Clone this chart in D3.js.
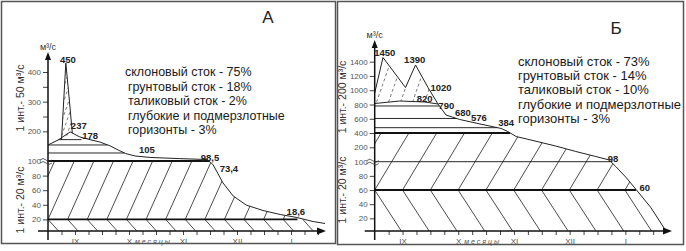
<!DOCTYPE html>
<html>
<head>
<meta charset="utf-8">
<script src="https://cdn.jsdelivr.net/npm/d3@7"></script>
<style>
body { margin: 0; background: #fff; }
svg { display: block; font-family: Arial, "Liberation Sans", sans-serif; }
</style>
</head>
<body>
<script>
// x axis: months (position in months from the start of the record)
var months = ["IX", "X", "XI", "XII", "I"];
var monthPos = [0.5, 1.5, 2.5, 3.5, 4.5];
var axisName = "месяцы";

// ---- panel A ----
var aTickLabels = [20, 40, 60, 80, 100, 200, 300, 400];
var aTickMinor = [250, 350];
var aTime = [0, 0.19, 0.41, 0.59, 0.78, 0.96, 1.15, 1.30, 1.44, 1.61, 1.89, 2.44, 2.94, 3.0, 3.06, 3.13, 3.24, 3.43, 3.67, 3.98, 4.30, 4.61, 4.91, 5.13];
var aFlow = [154, 171, 198, 181, 172, 164, 151, 137, 125, 117, 112, 108, 105, 99, 94.5, 85, 70, 52, 39.7, 32.2, 26.7, 22.6, 17.1, 14.4];
var aSpikeTime = [0.25, 0.33, 0.39, 0.45];
var aSpikeFlow = [171, 430, 316, 194];
var aLevelFlow = [172, 154, 127, 100, 20];
var aLevelFrom = [0.19, 0, 0, 0, 0];
var aLevelTo = [0.62, 1.1, 1.42, 3.0, 4.62];
var aLevelBold = [false, false, false, true, true];
var aLabels = ["450", "237", "178", "105", "98,5", "73,4", "18,6"];
var aLabelTime = [0.37, 0.57, 0.78, 1.83, 3.0, 3.35, 4.59];
var aLabelFlow = [440, 215, 184, 137, 110, 87.7, 28.8];
var aText = ["склоновый сток - 75%", "грунтовый сток - 18%", "таликовый сток - 2%",
             "глубокие и подмерзлотные", "горизонты - 3%"];

// ---- panel Б ----
var bTickLabels = [20, 40, 60, 80, 100, 200, 400, 600, 800, 1000, 1200, 1400];
var bTickMinor = [];
var bTime = [0, 0.149, 0.553, 0.733, 0.957, 1.136, 1.28, 1.526, 1.89, 2.27, 2.39, 2.54, 2.75, 3.25, 3.61, 3.97, 4.21, 4.33, 4.51, 4.69, 4.96, 5.23];
var bFlow = [960, 1459, 1038, 1354, 1038, 807, 653, 590, 527, 464, 421, 351, 312, 218, 171, 136, 112, 93, 78, 61, 35, 2];
var bArchTime = [0, 0.45, 0.9, 1.136];
var bArchFlow = [814, 849, 835, 807];
var bLevelFlow = [779, 604, 475, 400, 100, 60];
var bLevelFrom = [0, 0, 0, 0, 0, 0];
var bLevelTo = [1.16, 1.47, 2.2, 2.43, 4.27, 4.69];
var bLevelBold = [false, false, false, true, false, true];
var bLabels = ["1450", "1390", "1020", "820", "790", "680", "576", "384", "98", "60"];
var bLabelTime = [0.18, 0.718, 1.19, 0.898, 1.285, 1.585, 1.87, 2.36, 4.28, 4.85];
var bLabelFlow = [1518, 1424, 1027, 873, 779, 677, 607, 536, 112, 62.4];
var bText = ["склоновый сток - 73%", "грунтовый сток - 14%", "таликовый сток - 10%",
             "глубокие и подмерзлотные", "горизонты - 3%"];

var svg = d3.select("body").append("svg")
    .attr("width", 686)
    .attr("height", 251);
var defs = svg.append("defs");

// frames
svg.append("rect").attr("x", 1.5).attr("y", 1.5).attr("width", 334).attr("height", 242)
    .attr("fill", "none").attr("stroke", "#555").attr("stroke-width", 1.5);
svg.append("rect").attr("x", 337.5).attr("y", 1.5).attr("width", 346).attr("height", 243)
    .attr("fill", "none").attr("stroke", "#555").attr("stroke-width", 1.5);

function drawPanel(p) {
    var x = p.x, y = p.y;
    var ox = x(0), axisY = p.axisY;
    var g = svg.append("g");
    var pts = d3.zip(p.time, p.flow);

    // clip areas
    var under = d3.area().x(d => x(d[0])).y0(axisY).y1(d => y(d[1]));
    defs.append("clipPath").attr("id", p.id + "-under")
        .append("path").attr("d", under(pts));
    defs.append("clipPath").attr("id", p.id + "-up")
        .append("rect").attr("x", ox).attr("y", y(p.hatchTop))
        .attr("width", 400).attr("height", y(p.base) - y(p.hatchTop));
    defs.append("clipPath").attr("id", p.id + "-low")
        .append("rect").attr("x", ox).attr("y", y(p.base))
        .attr("width", 400).attr("height", axisY - y(p.base));
    defs.append("clipPath").attr("id", p.id + "-spike")
        .append("path").attr("d", d3.line()(p.spikePoly.map(d => [x(d[0]), y(d[1])])) + "Z");

    var yb = y(p.base);
    var starts = d3.range(-4, 24).map(k => ox + k * p.step);

    // "/" hatching above the base level
    var hTop = y(p.hatchTop) - 5;
    g.append("g").attr("clip-path", "url(#" + p.id + "-up)")
      .append("g").attr("clip-path", "url(#" + p.id + "-under)")
      .selectAll("line").data(starts).join("line")
        .attr("x1", d => d).attr("y1", yb)
        .attr("x2", d => d + p.slopeUp * (yb - hTop)).attr("y2", hTop)
        .attr("stroke", "#2a2a2a").attr("stroke-width", 0.85);

    // "\" hatching below the base level
    g.append("g").attr("clip-path", "url(#" + p.id + "-low)")
      .append("g").attr("clip-path", "url(#" + p.id + "-under)")
      .selectAll("line").data(starts).join("line")
        .attr("x1", d => d).attr("y1", yb)
        .attr("x2", d => d + p.slopeLow * (axisY + 2 - yb)).attr("y2", axisY + 2)
        .attr("stroke", "#2a2a2a").attr("stroke-width", 0.85);

    // dashed hatching in the flood peaks
    var sTop = y(p.spikeTop), sBot = y(p.spikeBase);
    g.append("g").attr("clip-path", "url(#" + p.id + "-spike)")
      .selectAll("line").data(d3.range(-6, 20).map(k => ox + k * p.spikeStep)).join("line")
        .attr("x1", d => d).attr("y1", sBot)
        .attr("x2", d => d + 0.35 * (sBot - sTop)).attr("y2", sTop)
        .attr("stroke", "#444").attr("stroke-width", 0.7).attr("stroke-dasharray", "3,2.5");

    // separation levels
    g.selectAll(".lev").data(p.levelFlow).join("line")
        .attr("x1", (d, i) => x(p.levelFrom[i])).attr("x2", (d, i) => x(p.levelTo[i]))
        .attr("y1", d => y(d)).attr("y2", d => y(d))
        .attr("stroke", "#111")
        .attr("stroke-width", (d, i) => p.levelBold[i] ? 1.9 : 0.9);

    // hydrograph
    var line = d3.line().x(d => x(d[0])).y(d => y(d[1]));
    g.append("path").attr("d", line(pts))
        .attr("fill", "none").attr("stroke", "#222").attr("stroke-width", 1);
    g.append("path").attr("d", line(p.extraLine))
        .attr("fill", "none").attr("stroke", "#222").attr("stroke-width", 1);

    // y axis
    var yAxis = d3.axisLeft(y)
        .tickValues(p.tickLabels.concat(p.tickMinor))
        .tickSize(5).tickPadding(2)
        .tickFormat(d => p.tickLabels.indexOf(d) >= 0 ? d : "");
    var ya = g.append("g").attr("transform", "translate(" + ox + ",0)").call(yAxis);
    ya.select(".domain").remove();
    ya.selectAll("line").attr("stroke", "#444");
    ya.selectAll("text").attr("font-size", 8).attr("fill", "#555").attr("font-family", "Arial");

    g.append("line").attr("x1", ox).attr("x2", ox).attr("y1", axisY + 9).attr("y2", p.axisTop + 4)
        .attr("stroke", "#111").attr("stroke-width", 1.5);
    g.append("path")
        .attr("d", "M" + ox + "," + p.axisTop + "l-3,8h6z").attr("fill", "#111");

    // break mark at 100
    var yBr = y(100);
    g.append("rect").attr("x", ox - 7).attr("y", yBr - 2.5).attr("width", 6).attr("height", 4).attr("fill", "#fff");
    g.selectAll(".brk").data([-2, 1]).join("path")
        .attr("d", d => "M" + (ox - 8) + "," + (yBr + d + 1) + "q3,-3 6,0t6,0")
        .attr("fill", "none").attr("stroke", "#333").attr("stroke-width", 0.8);

    // x axis
    var ticks = d3.range(1, 21).map(k => k * 0.25);
    var xAxis = d3.axisBottom(x).tickValues(ticks).tickSize(4).tickPadding(3)
        .tickFormat(d => {
            var i = monthPos.indexOf(d);
            return i >= 0 ? months[i] : "";
        });
    var xa = g.append("g").attr("transform", "translate(0," + axisY + ")").call(xAxis);
    xa.select(".domain").remove();
    xa.selectAll("line").attr("stroke", "#444");
    xa.selectAll("text").attr("font-size", 8).attr("fill", "#555").attr("font-family", "Arial");
    g.append("text").attr("x", x(1.5) + 6).attr("y", axisY + 13)
        .attr("font-size", 7).attr("letter-spacing", 2).attr("fill", "#555")
        .attr("font-style", "italic").text(axisName);

    g.append("line").attr("x1", ox - 10).attr("x2", p.axisEnd - 4).attr("y1", axisY).attr("y2", axisY)
        .attr("stroke", "#111").attr("stroke-width", 1.5);
    g.append("path")
        .attr("d", "M" + p.axisEnd + "," + axisY + "l-9,-3.5v7z").attr("fill", "#111");

    g.append("text").attr("x", ox).attr("y", p.axisTop - 2).attr("text-anchor", "middle")
        .attr("font-size", 9).attr("fill", "#333").text("м³/с");

    // axis titles
    p.titles.forEach(function (t) {
        g.append("text")
            .attr("transform", "translate(" + t[1] + "," + t[2] + ") rotate(-90)")
            .attr("text-anchor", "middle").attr("dominant-baseline", "middle")
            .attr("font-size", 10.5).attr("fill", "#333").text(t[0]);
    });

    // value labels
    g.selectAll(".val").data(p.labels).join("text")
        .attr("x", (d, i) => x(p.labelTime[i])).attr("y", (d, i) => y(p.labelFlow[i]))
        .attr("text-anchor", "middle").attr("dominant-baseline", "middle")
        .attr("font-size", 9.5).attr("font-weight", "bold").attr("fill", "#222")
        .text(d => d);

    // legend text
    g.selectAll(".txt").data(p.text).join("text")
        .attr("x", (d, i) => p.textX + (i === 0 ? p.textFirstDx : 0))
        .attr("y", (d, i) => p.textY + i * p.textStep)
        .attr("font-size", p.textSize).attr("fill", "#1a1a1a")
        .text(d => d);

    g.append("text").attr("x", p.letterX).attr("y", p.letterY)
        .attr("text-anchor", "middle").attr("font-size", 17).attr("fill", "#222").text(p.letter);
}

// panel A scales
var xA = d3.scaleLinear().domain([0, 1]).range([48, 102]);
var yA = d3.scaleLinear().domain([0, 100, 400]).range([234, 161, 72]);
drawPanel({
    id: "pa", x: xA, y: yA, axisY: 231, axisTop: 52, axisEnd: 326,
    time: aTime, flow: aFlow,
    tickLabels: aTickLabels, tickMinor: aTickMinor,
    base: 20, hatchTop: 100, step: 19.6, slopeUp: 0.45, slopeLow: 0.9,
    spikePoly: d3.zip(aSpikeTime, aSpikeFlow), spikeTop: 460, spikeBase: 150, spikeStep: 5,
    extraLine: d3.zip(aSpikeTime, aSpikeFlow),
    levelFlow: aLevelFlow, levelFrom: aLevelFrom, levelTo: aLevelTo, levelBold: aLevelBold,
    labels: aLabels, labelTime: aLabelTime, labelFlow: aLabelFlow,
    titles: [["1 инт.- 50 м³/с", 21, 98], ["1 инт.- 20 м³/с", 21, 200]],
    text: aText, textX: 128, textFirstDx: -3, textY: 76, textStep: 14.6, textSize: 12.5,
    letter: "А", letterX: 268, letterY: 23
});

// panel Б scales
var xB = d3.scaleLinear().domain([0, 1]).range([374.7, 430.4]);
var yB = d3.scaleLinear().domain([0, 100, 200, 1400]).range([232.5, 161.7, 147.3, 61.7]);
var bSpikePoly = d3.zip(bTime.slice(0, 6), bFlow.slice(0, 6))
    .concat(d3.zip(bArchTime, bArchFlow).reverse());
drawPanel({
    id: "pb", x: xB, y: yB, axisY: 231, axisTop: 40, axisEnd: 672,
    time: bTime, flow: bFlow,
    tickLabels: bTickLabels, tickMinor: bTickMinor,
    base: 60, hatchTop: 400, step: 27.8, slopeUp: 0.6, slopeLow: 0.65,
    spikePoly: bSpikePoly, spikeTop: 1500, spikeBase: 760, spikeStep: 12,
    extraLine: d3.zip(bArchTime, bArchFlow),
    levelFlow: bLevelFlow, levelFrom: bLevelFrom, levelTo: bLevelTo, levelBold: bLevelBold,
    labels: bLabels, labelTime: bLabelTime, labelFlow: bLabelFlow,
    titles: [["1 инт.- 200 м³/с", 343, 97], ["1 инт.- 20 м³/с", 343, 190]],
    text: bText, textX: 518, textFirstDx: 0, textY: 66, textStep: 14.2, textSize: 13,
    letter: "Б", letterX: 616, letterY: 34
});
</script>
</body>
</html>
